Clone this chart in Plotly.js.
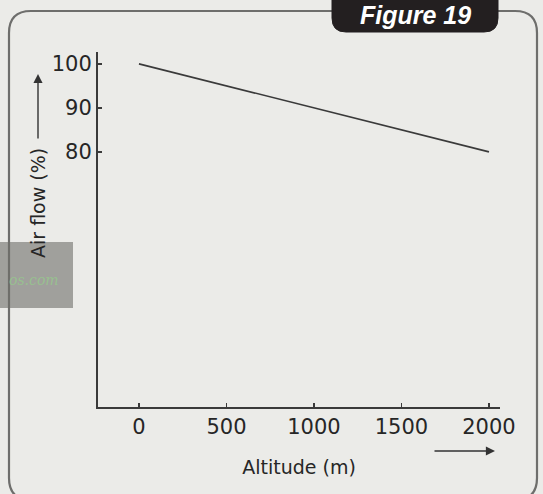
<!DOCTYPE html>
<html>
<head>
<meta charset="utf-8">
<script src="https://cdn.plot.ly/plotly-3.0.1.min.js"></script>
<style>html,body{margin:0;padding:0;background:#ebebe8;}#chart{width:543px;height:494px;}</style>
</head>
<body>
<div id="chart"></div>
<script>
// Data
const altitude = [0, 2000];          // m
const airFlow = [100, 80];           // %
const xTickVals = [0, 500, 1000, 1500, 2000];
const xTickText = ['0', '500', '1000', '1500', '2000'];
const yTickVals = [80, 90, 100];
const yTickText = ['80', '90', '100'];
const figureLabel = 'Figure 19';
const xTitle = 'Altitude (m)';
const yTitle = 'Air flow (%)';

const L = 98, R = 43, T = 52, B = 87, W = 543, H = 494;
const PW = W - L - R, PH = H - T - B;
const px = x => (x - L) / PW;
const py = y => (H - B - y) / PH;

function rrect(x0, y0, x1, y1, r, roundTop, roundBottom) {
  // pixel coords -> paper path with rounded corners
  const rx = r / PW, ry = r / PH;
  const X0 = px(x0), X1 = px(x1), Yt = py(y0), Yb = py(y1);
  let p = '';
  if (roundTop) p += `M ${X0} ${Yt - ry} Q ${X0} ${Yt} ${X0 + rx} ${Yt} L ${X1 - rx} ${Yt} Q ${X1} ${Yt} ${X1} ${Yt - ry} `;
  else p += `M ${X0} ${Yt} L ${X1} ${Yt} `;
  if (roundBottom) p += `L ${X1} ${Yb + ry} Q ${X1} ${Yb} ${X1 - rx} ${Yb} L ${X0 + rx} ${Yb} Q ${X0} ${Yb} ${X0} ${Yb + ry} Z`;
  else p += `L ${X1} ${Yb} L ${X0} ${Yb} Z`;
  return p;
}

const textColor = '#262626';
const trace = {
  x: altitude, y: airFlow, type: 'scatter', mode: 'lines',
  line: {color: '#3a3a3a', width: 1.6}, hoverinfo: 'skip'
};

const layout = {
  width: W, height: H,
  margin: {l: L, r: R, t: T, b: B, pad: 0},
  paper_bgcolor: '#ebebe8', plot_bgcolor: 'rgba(0,0,0,0)',
  showlegend: false,
  font: {family: 'DejaVu Sans', color: textColor},
  xaxis: {
    range: [-234, 2063], tickvals: xTickVals, ticktext: xTickText,
    ticks: 'inside', ticklen: 4, tickwidth: 1.5, tickcolor: '#3a3a3a',
    showline: true, linecolor: '#3a3a3a', linewidth: 2,
    showgrid: false, zeroline: false, automargin: false,
    tickfont: {family: 'DejaVu Sans', size: 21, color: textColor},
    title: {text: xTitle, font: {family: 'DejaVu Sans', size: 19, color: textColor}, standoff: 22}
  },
  yaxis: {
    range: [22, 102.7], tickvals: yTickVals, ticktext: yTickText,
    ticks: 'inside', ticklen: 4, tickwidth: 1.5, tickcolor: '#3a3a3a',
    showline: true, linecolor: '#3a3a3a', linewidth: 2,
    showgrid: false, zeroline: false, automargin: false,
    tickfont: {family: 'DejaVu Sans', size: 21, color: textColor},
    ticklabelstandoff: 0
  },
  shapes: [
    {type: 'path', xref: 'paper', yref: 'paper', path: rrect(9, 11, 537, 500, 22, true, true),
     line: {color: '#6e6e6c', width: 2.2}, fillcolor: 'rgba(0,0,0,0)', layer: 'below'},
    {type: 'path', xref: 'paper', yref: 'paper', path: rrect(332, -10, 498, 32, 14, false, true),
     line: {color: '#231f20', width: 1}, fillcolor: '#231f20', layer: 'above'},
    {type: 'rect', xref: 'paper', yref: 'paper', x0: px(-2), x1: px(73), y0: py(308), y1: py(242),
     line: {width: 0}, fillcolor: 'rgba(110,110,105,0.6)', layer: 'above'}
  ],
  annotations: [
    {xref: 'paper', yref: 'paper', x: px(415), y: py(15), text: '<b><i>' + figureLabel + '</i></b>',
     showarrow: false, font: {family: 'Liberation Sans', size: 25, color: '#ffffff'}, xanchor: 'center', yanchor: 'middle'},
    {xref: 'paper', yref: 'paper', x: px(38), y: py(203), text: yTitle, textangle: -90,
     showarrow: false, font: {family: 'DejaVu Sans', size: 19, color: textColor}, xanchor: 'center', yanchor: 'middle'},
    {xref: 'paper', yref: 'paper', x: px(38), y: py(74), text: '', showarrow: true,
     ax: 0, ay: 66, arrowhead: 2, arrowsize: 1.3, arrowwidth: 1.4, arrowcolor: '#333'},
    {xref: 'paper', yref: 'paper', x: px(495), y: py(451), text: '', showarrow: true,
     ax: -62, ay: 0, arrowhead: 2, arrowsize: 1.3, arrowwidth: 1.4, arrowcolor: '#333'},
    {xref: 'paper', yref: 'paper', x: px(34), y: py(280), text: '<i>os.com</i>', showarrow: false,
     font: {family: 'DejaVu Serif', size: 14, color: 'rgba(150,200,140,0.8)'}, xanchor: 'center', yanchor: 'middle'}
  ]
};

Plotly.newPlot('chart', [trace], layout, {staticPlot: true, displayModeBar: false});
</script>
</body>
</html>
